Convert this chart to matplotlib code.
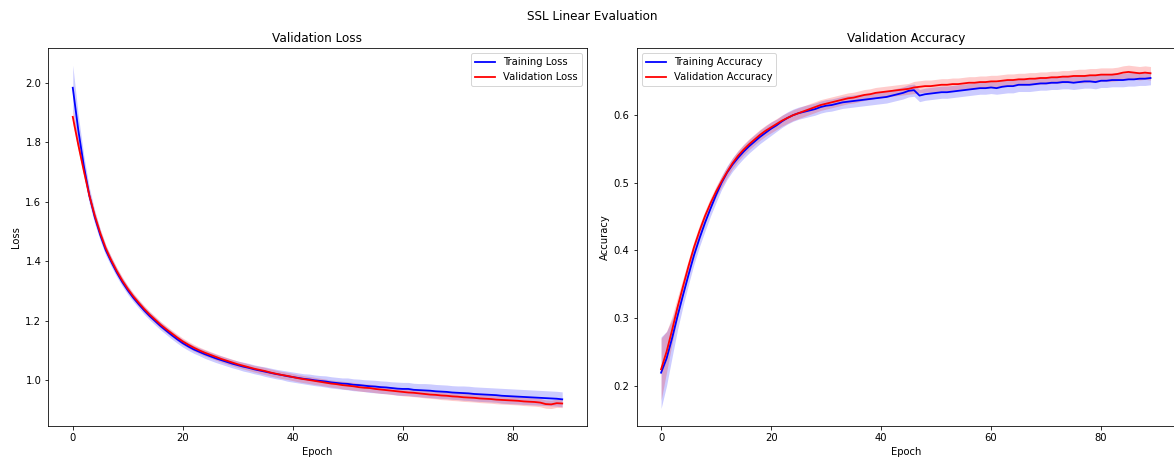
import numpy as np
import matplotlib
matplotlib.use("Agg")
import matplotlib.pyplot as plt

epochs = list(range(90))

train_loss = [
    1.984, 1.842, 1.722, 1.622, 1.548, 1.488, 1.437, 1.398, 1.362, 1.330,
    1.302, 1.277, 1.255, 1.234, 1.215, 1.198, 1.181, 1.166, 1.151, 1.137,
    1.124, 1.113, 1.103, 1.095, 1.087, 1.080, 1.073, 1.067, 1.061, 1.055,
    1.050, 1.045, 1.041, 1.036, 1.032, 1.028, 1.024, 1.020, 1.017, 1.013,
    1.010, 1.007, 1.004, 1.002, 0.999, 0.997, 0.995, 0.992, 0.990, 0.988,
    0.987, 0.984, 0.983, 0.981, 0.979, 0.978, 0.976, 0.975, 0.973, 0.971,
    0.970, 0.970, 0.967, 0.966, 0.965, 0.964, 0.962, 0.961, 0.960, 0.958,
    0.957, 0.956, 0.955, 0.953, 0.952, 0.951, 0.950, 0.949, 0.947, 0.946,
    0.945, 0.944, 0.943, 0.942, 0.941, 0.940, 0.939, 0.938, 0.937, 0.935,
]
train_loss_std = [
    0.076, 0.050, 0.035, 0.027, 0.022, 0.019, 0.017, 0.016, 0.015, 0.014,
    0.014, 0.013, 0.013, 0.013, 0.013, 0.013, 0.013, 0.013, 0.013, 0.013,
    0.013, 0.013, 0.013, 0.013, 0.014, 0.014, 0.014, 0.014, 0.014, 0.014,
    0.014, 0.015, 0.015, 0.015, 0.015, 0.016, 0.016, 0.016, 0.016, 0.017,
    0.017, 0.017, 0.017, 0.018, 0.018, 0.018, 0.019, 0.019, 0.019, 0.019,
    0.020, 0.020, 0.020, 0.020, 0.021, 0.021, 0.021, 0.021, 0.021, 0.022,
    0.022, 0.022, 0.022, 0.022, 0.023, 0.023, 0.023, 0.023, 0.023, 0.023,
    0.023, 0.024, 0.024, 0.024, 0.024, 0.024, 0.024, 0.024, 0.025, 0.025,
    0.025, 0.025, 0.025, 0.025, 0.025, 0.025, 0.025, 0.025, 0.025, 0.025,
]
val_loss = [
    1.886, 1.792, 1.705, 1.622, 1.553, 1.494, 1.443, 1.403, 1.367, 1.335,
    1.307, 1.282, 1.260, 1.239, 1.220, 1.203, 1.186, 1.171, 1.157, 1.143,
    1.130, 1.119, 1.109, 1.100, 1.092, 1.085, 1.078, 1.071, 1.065, 1.059,
    1.053, 1.048, 1.043, 1.038, 1.034, 1.030, 1.025, 1.021, 1.017, 1.014,
    1.010, 1.006, 1.003, 1.000, 0.997, 0.994, 0.991, 0.988, 0.986, 0.983,
    0.981, 0.979, 0.976, 0.974, 0.973, 0.970, 0.968, 0.966, 0.964, 0.962,
    0.960, 0.958, 0.957, 0.955, 0.953, 0.951, 0.950, 0.948, 0.947, 0.945,
    0.944, 0.942, 0.941, 0.940, 0.938, 0.937, 0.936, 0.934, 0.933, 0.932,
    0.931, 0.930, 0.928, 0.927, 0.926, 0.924, 0.919, 0.918, 0.922, 0.921,
]
val_loss_std = [
    0.025, 0.020, 0.017, 0.015, 0.014, 0.013, 0.012, 0.012, 0.012, 0.012,
    0.011, 0.011, 0.011, 0.011, 0.011, 0.011, 0.011, 0.011, 0.011, 0.011,
    0.011, 0.011, 0.011, 0.011, 0.011, 0.011, 0.011, 0.011, 0.011, 0.011,
    0.011, 0.011, 0.011, 0.011, 0.012, 0.012, 0.012, 0.012, 0.012, 0.012,
    0.012, 0.012, 0.012, 0.012, 0.012, 0.012, 0.012, 0.012, 0.012, 0.013,
    0.013, 0.013, 0.013, 0.013, 0.013, 0.013, 0.013, 0.013, 0.013, 0.013,
    0.013, 0.013, 0.013, 0.013, 0.013, 0.013, 0.013, 0.014, 0.014, 0.014,
    0.014, 0.014, 0.014, 0.014, 0.014, 0.014, 0.014, 0.014, 0.014, 0.014,
    0.014, 0.014, 0.014, 0.014, 0.014, 0.014, 0.014, 0.014, 0.014, 0.014,
]

train_acc = [
    0.219, 0.240, 0.270, 0.303, 0.334, 0.364, 0.393, 0.418, 0.441, 0.462,
    0.482, 0.500, 0.515, 0.527, 0.537, 0.546, 0.554, 0.561, 0.568, 0.574,
    0.580, 0.585, 0.591, 0.596, 0.600, 0.603, 0.605, 0.607, 0.609, 0.612,
    0.614, 0.615, 0.617, 0.619, 0.620, 0.621, 0.622, 0.623, 0.624, 0.625,
    0.626, 0.627, 0.629, 0.631, 0.633, 0.636, 0.637, 0.629, 0.631, 0.632,
    0.633, 0.634, 0.634, 0.635, 0.636, 0.637, 0.638, 0.639, 0.640, 0.640,
    0.641, 0.640, 0.642, 0.643, 0.643, 0.645, 0.645, 0.645, 0.646, 0.647,
    0.647, 0.648, 0.648, 0.649, 0.649, 0.648, 0.649, 0.650, 0.650, 0.649,
    0.651, 0.651, 0.652, 0.652, 0.652, 0.653, 0.653, 0.654, 0.654, 0.655,
]
train_acc_std = [
    0.053, 0.040, 0.028, 0.020, 0.016, 0.014, 0.013, 0.012, 0.012, 0.011,
    0.011, 0.010, 0.010, 0.010, 0.010, 0.010, 0.010, 0.010, 0.010, 0.010,
    0.010, 0.009, 0.009, 0.009, 0.009, 0.009, 0.009, 0.009, 0.009, 0.009,
    0.009, 0.009, 0.009, 0.009, 0.009, 0.009, 0.009, 0.009, 0.009, 0.009,
    0.009, 0.009, 0.009, 0.009, 0.009, 0.009, 0.009, 0.009, 0.009, 0.009,
    0.009, 0.009, 0.009, 0.009, 0.009, 0.009, 0.009, 0.009, 0.009, 0.009,
    0.009, 0.009, 0.010, 0.010, 0.010, 0.010, 0.010, 0.010, 0.010, 0.010,
    0.010, 0.010, 0.010, 0.010, 0.010, 0.010, 0.010, 0.010, 0.010, 0.010,
    0.010, 0.010, 0.010, 0.010, 0.010, 0.010, 0.010, 0.010, 0.010, 0.010,
]
val_acc = [
    0.224, 0.250, 0.282, 0.316, 0.347, 0.377, 0.405, 0.429, 0.451, 0.470,
    0.487, 0.502, 0.516, 0.529, 0.540, 0.549, 0.557, 0.564, 0.571, 0.577,
    0.582, 0.587, 0.592, 0.596, 0.600, 0.603, 0.606, 0.609, 0.612, 0.615,
    0.617, 0.619, 0.621, 0.623, 0.625, 0.626, 0.628, 0.630, 0.631, 0.633,
    0.634, 0.635, 0.636, 0.637, 0.638, 0.639, 0.641, 0.642, 0.643, 0.643,
    0.644, 0.645, 0.645, 0.646, 0.646, 0.647, 0.648, 0.648, 0.649, 0.649,
    0.650, 0.650, 0.651, 0.652, 0.652, 0.653, 0.653, 0.654, 0.654, 0.655,
    0.655, 0.656, 0.656, 0.657, 0.657, 0.658, 0.658, 0.658, 0.659, 0.659,
    0.660, 0.660, 0.660, 0.661, 0.663, 0.664, 0.663, 0.662, 0.663, 0.662,
]
val_acc_std = [
    0.046, 0.030, 0.020, 0.015, 0.012, 0.010, 0.009, 0.009, 0.008, 0.008,
    0.008, 0.008, 0.008, 0.008, 0.008, 0.008, 0.008, 0.008, 0.008, 0.008,
    0.008, 0.008, 0.008, 0.008, 0.008, 0.008, 0.008, 0.008, 0.008, 0.008,
    0.008, 0.008, 0.008, 0.008, 0.008, 0.008, 0.008, 0.008, 0.008, 0.008,
    0.008, 0.008, 0.008, 0.008, 0.008, 0.008, 0.009, 0.009, 0.009, 0.009,
    0.009, 0.009, 0.009, 0.009, 0.009, 0.009, 0.009, 0.009, 0.009, 0.009,
    0.009, 0.009, 0.009, 0.009, 0.009, 0.009, 0.009, 0.009, 0.009, 0.009,
    0.009, 0.009, 0.009, 0.009, 0.009, 0.009, 0.010, 0.010, 0.010, 0.010,
    0.010, 0.010, 0.010, 0.010, 0.010, 0.010, 0.010, 0.010, 0.010, 0.010,
]

W, H, DPI = 1174, 457, 72
fig = plt.figure(figsize=(W / DPI, H / DPI), dpi=DPI)

ax_w = 538.4 / W
ax_b = 1 - 425.7 / H
ax_h = (425.7 - 48.0) / H
ax_loss = fig.add_axes([48.3 / W, ax_b, ax_w, ax_h])
ax_acc = fig.add_axes([636.6 / W, ax_b, ax_w, ax_h])


def band(ax, x, mean, std, color, label):
    mean = np.asarray(mean)
    std = np.asarray(std)
    ax.plot(x, mean, color=color, label=label, linewidth=1.8)
    ax.fill_between(x, mean - std, mean + std, color=color, alpha=0.2, linewidth=0)


band(ax_loss, epochs, train_loss, train_loss_std, "blue", "Training Loss")
band(ax_loss, epochs, val_loss, val_loss_std, "red", "Validation Loss")
ax_loss.set_title("Validation Loss")
ax_loss.set_xlabel("Epoch")
ax_loss.set_ylabel("Loss")
ax_loss.legend(loc="upper right")

band(ax_acc, epochs, train_acc, train_acc_std, "blue", "Training Accuracy")
band(ax_acc, epochs, val_acc, val_acc_std, "red", "Validation Accuracy")
ax_acc.set_title("Validation Accuracy")
ax_acc.set_xlabel("Epoch")
ax_acc.set_ylabel("Accuracy")
ax_acc.legend(loc="upper left")

fig.suptitle("SSL Linear Evaluation", x=592 / W, y=1 - 17 / H, va="center")

fig.savefig("out.png", dpi=DPI)
